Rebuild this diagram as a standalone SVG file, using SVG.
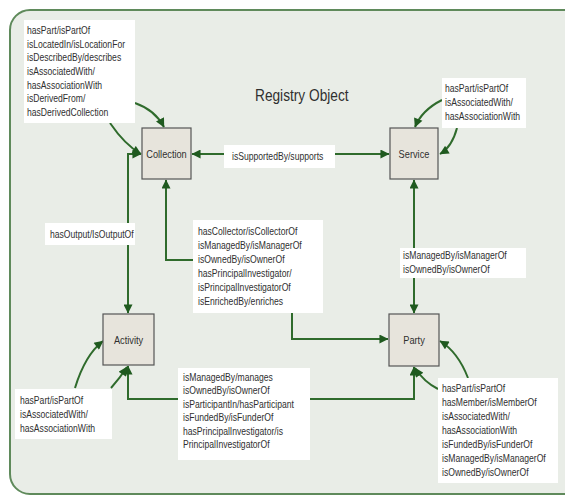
<svg xmlns="http://www.w3.org/2000/svg" width="565" height="497" viewBox="0 0 565 497">
<defs>
<marker id="ah" viewBox="0 0 10 10" refX="9.5" refY="5" markerWidth="10" markerHeight="9" markerUnits="userSpaceOnUse" orient="auto-start-reverse">
<path d="M0,0 L10,5 L0,10 z" fill="#1f5a1f"/>
</marker>
<style>
.frame{fill:#e9ede7;stroke:#5f8a5b;stroke-width:2}
.box{fill:#e7e4dc;stroke:#555;stroke-width:1.2}
.lbl{fill:#fff;stroke:none}
.t{font-family:"Liberation Sans",Arial,sans-serif;font-size:10.5px;fill:#2f2f2f}
.n{font-family:"Liberation Sans",Arial,sans-serif;font-size:11px;fill:#2f2f2f;text-anchor:middle}
.title{font-family:"Liberation Sans",Arial,sans-serif;font-size:16.5px;fill:#2f2f2f}
.c{fill:none;stroke:#2f6b2c;stroke-width:2}
</style>
</defs>
<rect width="565" height="497" fill="#fff"/>
<rect class="frame" x="10" y="10" width="600" height="484" rx="20"/>
<text class="title" transform="translate(255,101) scale(0.83,1)">Registry Object</text>

<g id="connectors">
<path class="c" d="M135,103 Q155,110 164,127" marker-end="url(#ah)"/>
<path class="c" d="M110,123 Q125,145 141,154" marker-end="url(#ah)"/>
<path class="c" d="M389,154 L192,154" marker-start="url(#ah)" marker-end="url(#ah)"/>
<path class="c" d="M128,313 L128,154 L141,154" marker-start="url(#ah)" marker-end="url(#ah)"/>
<path class="c" d="M166,180 L166,260 L292,260 L292,339 L388,339" marker-start="url(#ah)" marker-end="url(#ah)"/>
<path class="c" d="M414,180 L414,313" marker-start="url(#ah)" marker-end="url(#ah)"/>
<path class="c" d="M442,100 Q422,110 415,127" marker-end="url(#ah)"/>
<path class="c" d="M457,128 Q452,147 440,154" marker-end="url(#ah)"/>
<path class="c" d="M128,366 L128,399 L414,399 L414,367" marker-start="url(#ah)" marker-end="url(#ah)"/>
<path class="c" d="M75,388 Q85,355 103,341" marker-end="url(#ah)"/>
<path class="c" d="M111,388 Q120,378 127,367" marker-end="url(#ah)"/>
<path class="c" d="M468,378 Q458,352 440,341" marker-end="url(#ah)"/>
<path class="c" d="M438,389 Q424,382 415,368" marker-end="url(#ah)"/>
</g>

<g id="label-collection">
<rect class="lbl" x="24" y="20" width="111" height="103"/>
<text class="t" transform="translate(27,34) scale(0.82,1)"><tspan x="0" y="0">hasPart/isPartOf</tspan><tspan x="0" dy="13.7">isLocatedIn/isLocationFor</tspan><tspan x="0" dy="13.7">isDescribedBy/describes</tspan><tspan x="0" dy="13.7">isAssociatedWith/</tspan><tspan x="0" dy="13.7">hasAssociationWith</tspan><tspan x="0" dy="13.7">isDerivedFrom/</tspan><tspan x="0" dy="13.7">hasDerivedCollection</tspan></text>
</g>

<g id="label-supports">
<rect class="lbl" x="224" y="145" width="111" height="23"/>
<text class="t" transform="translate(232,160) scale(0.82,1)">isSupportedBy/supports</text>
</g>

<g id="label-service">
<rect class="lbl" x="442" y="78" width="84" height="50"/>
<text class="t" transform="translate(445,92) scale(0.82,1)"><tspan x="0" y="0">hasPart/isPartOf</tspan><tspan x="0" dy="14">isAssociatedWith/</tspan><tspan x="0" dy="14">hasAssociationWith</tspan></text>
</g>

<g id="label-output">
<rect class="lbl" x="45" y="223" width="90" height="22"/>
<text class="t" transform="translate(50,238) scale(0.82,1)">hasOutput/IsOutputOf</text>
</g>

<g id="label-collector">
<rect class="lbl" x="193" y="220" width="130" height="93"/>
<text class="t" transform="translate(198,235) scale(0.82,1)"><tspan x="0" y="0">hasCollector/isCollectorOf</tspan><tspan x="0" dy="14">isManagedBy/isManagerOf</tspan><tspan x="0" dy="14">isOwnedBy/isOwnerOf</tspan><tspan x="0" dy="14">hasPrincipalInvestigator/</tspan><tspan x="0" dy="14">isPrincipalInvestigatorOf</tspan><tspan x="0" dy="14">isEnrichedBy/enriches</tspan></text>
</g>

<g id="label-managed">
<rect class="lbl" x="400" y="248" width="126" height="30"/>
<text class="t" transform="translate(403,259) scale(0.82,1)"><tspan x="0" y="0">isManagedBy/isManagerOf</tspan><tspan x="0" dy="14">isOwnedBy/isOwnerOf</tspan></text>
</g>

<g id="label-activity">
<rect class="lbl" x="15" y="389" width="97" height="50"/>
<text class="t" transform="translate(20,404) scale(0.82,1)"><tspan x="0" y="0">hasPart/isPartOf</tspan><tspan x="0" dy="14">isAssociatedWith/</tspan><tspan x="0" dy="14">hasAssociationWith</tspan></text>
</g>

<g id="label-participant">
<rect class="lbl" x="178" y="368" width="132" height="92"/>
<text class="t" transform="translate(183,381) scale(0.82,1)"><tspan x="0" y="0">isManagedBy/manages</tspan><tspan x="0" dy="13.5">isOwnedBy/isOwnerOf</tspan><tspan x="0" dy="13.5">isParticipantIn/hasParticipant</tspan><tspan x="0" dy="13.5">isFundedBy/isFunderOf</tspan><tspan x="0" dy="13.5">hasPrincipalInvestigator/is</tspan><tspan x="0" dy="13.5">PrincipalInvestigatorOf</tspan></text>
</g>

<g id="label-party">
<rect class="lbl" x="438" y="378" width="120" height="105"/>
<text class="t" transform="translate(442,392) scale(0.82,1)"><tspan x="0" y="0">hasPart/isPartOf</tspan><tspan x="0" dy="14">hasMember/isMemberOf</tspan><tspan x="0" dy="14">isAssociatedWith/</tspan><tspan x="0" dy="14">hasAssociationWith</tspan><tspan x="0" dy="14">isFundedBy/isFunderOf</tspan><tspan x="0" dy="14">isManagedBy/isManagerOf</tspan><tspan x="0" dy="14">isOwnedBy/isOwnerOf</tspan></text>
</g>

<g id="collection">
<rect class="box" x="142" y="128" width="49" height="51"/>
<text class="n" transform="translate(166.5,158) scale(0.84,1)">Collection</text>
</g>
<g id="service">
<rect class="box" x="390" y="128" width="48" height="51"/>
<text class="n" transform="translate(414,158) scale(0.84,1)">Service</text>
</g>
<g id="activity">
<rect class="box" x="103" y="314" width="51" height="51"/>
<text class="n" transform="translate(128.5,344) scale(0.84,1)">Activity</text>
</g>
<g id="party">
<rect class="box" x="389" y="314" width="50" height="52"/>
<text class="n" transform="translate(414,344) scale(0.84,1)">Party</text>
</g>
</svg>
